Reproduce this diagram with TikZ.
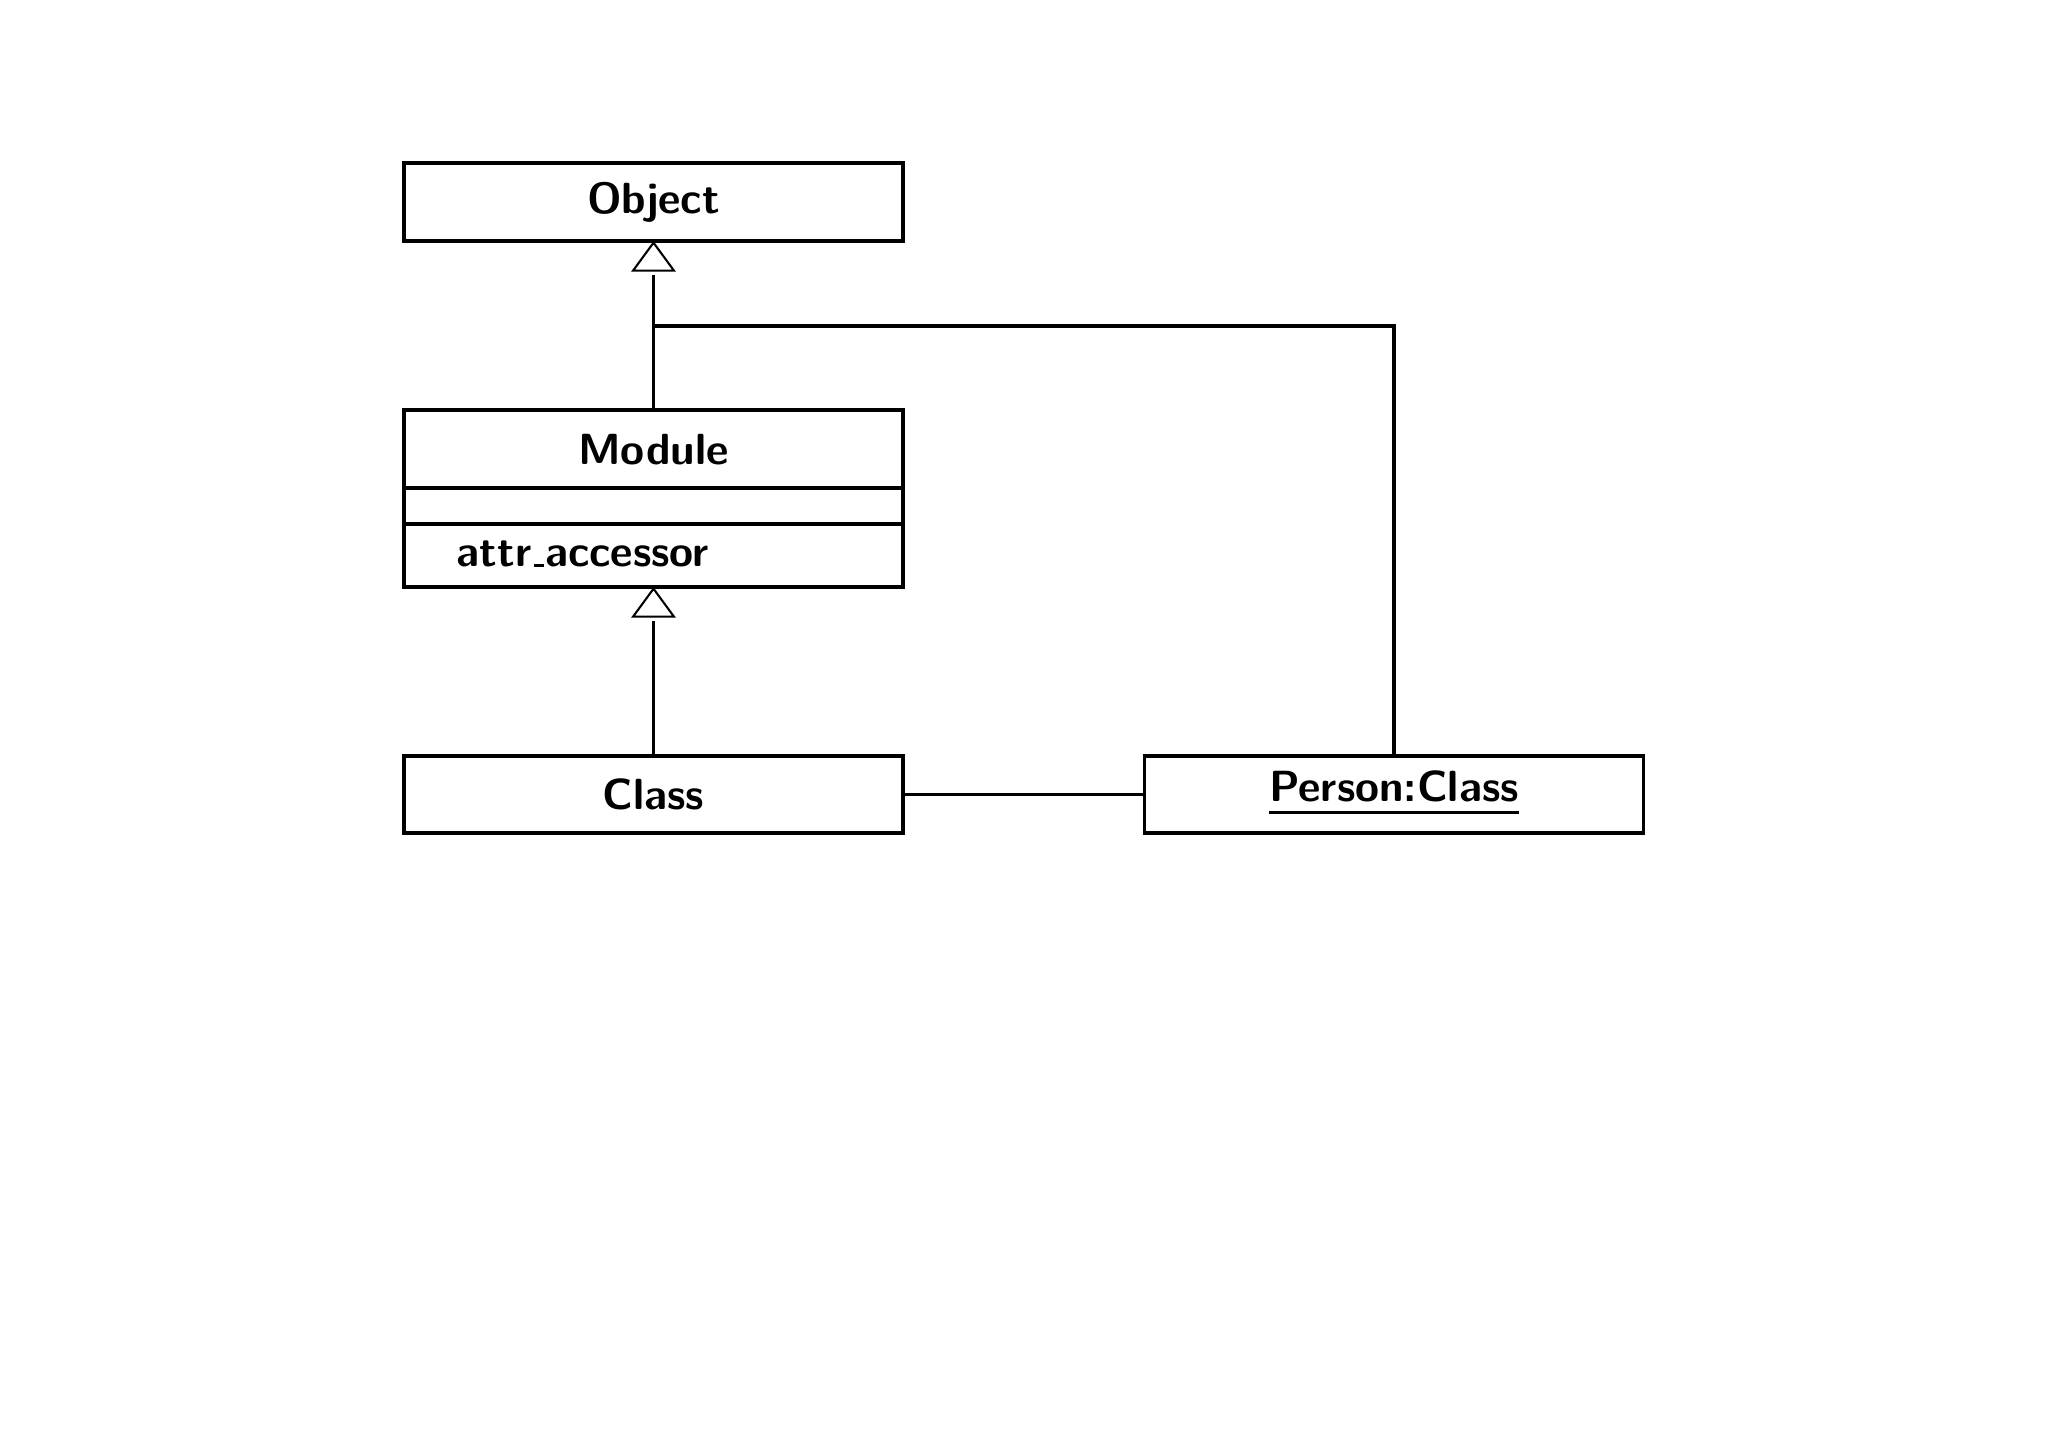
\documentclass[tikz,border=0pt]{standalone}
\usetikzlibrary{arrows.meta}
\newcommand\ulbox[1]{\setbox0=\hbox{#1}\leavevmode\rlap{\copy0}\raisebox{-1.81mm}{\rule{\wd0}{0.43mm}}}
\newcommand\lowbar{\kern0.05em\rule{0.24em}{1.1pt}\kern0.03em}
\begin{document}
\begin{tikzpicture}[x=0.14502mm,y=-0.14502mm,
  box/.style={draw, line width=1.4pt, minimum width=72.37mm, inner sep=0pt,
    font=\fontsize{18}{20}\selectfont\sffamily\bfseries, text height=4.35mm, text depth=0pt},
  conn/.style={line width=1.4pt},
  genline/.style={line width=1.4pt, shorten >=4.65mm},
  tri/.style={line width=0.85pt, line join=miter}]
\useasboundingbox (0,0) rectangle (2048,1448);
\node[box, minimum height=11.31mm, text depth=1.16mm] (obj) at (653.5,202) {Object};
\node[box, minimum height=11.31mm] (modA) at (653.5,449) {Module};
\node[box, minimum height=5.22mm] (modB) at (653.5,506) {};
\node[box, minimum height=9.14mm, text width=57mm, align=left, inner xsep=7.69mm,
  text height=3.6mm, text depth=0.3mm] (modC) at (653.5,555.5) {attr\lowbar accessor};
\node[box, minimum height=11.17mm] (cls) at (653.5,794.5) {Class};
\node[box, minimum height=11.17mm, text depth=2.32mm] (per) at (1394,794.5) {\ulbox{Person:Class}};
\coordinate (j) at (653.5,326);
% generalisation Module -> Object
\draw[genline] (modA.north) -- (obj.south);
\draw[tri] (obj.south) -- ++(-20.5,28) -- ++(41,0) -- cycle;
% generalisation Class -> Module
\draw[genline] (cls.north) -- (modC.south);
\draw[tri] (modC.south) -- ++(-20.5,28) -- ++(41,0) -- cycle;
\draw[conn] (per.north) |- (j);
\draw[conn] (cls.east) -- (per.west);
\end{tikzpicture}
\end{document}
